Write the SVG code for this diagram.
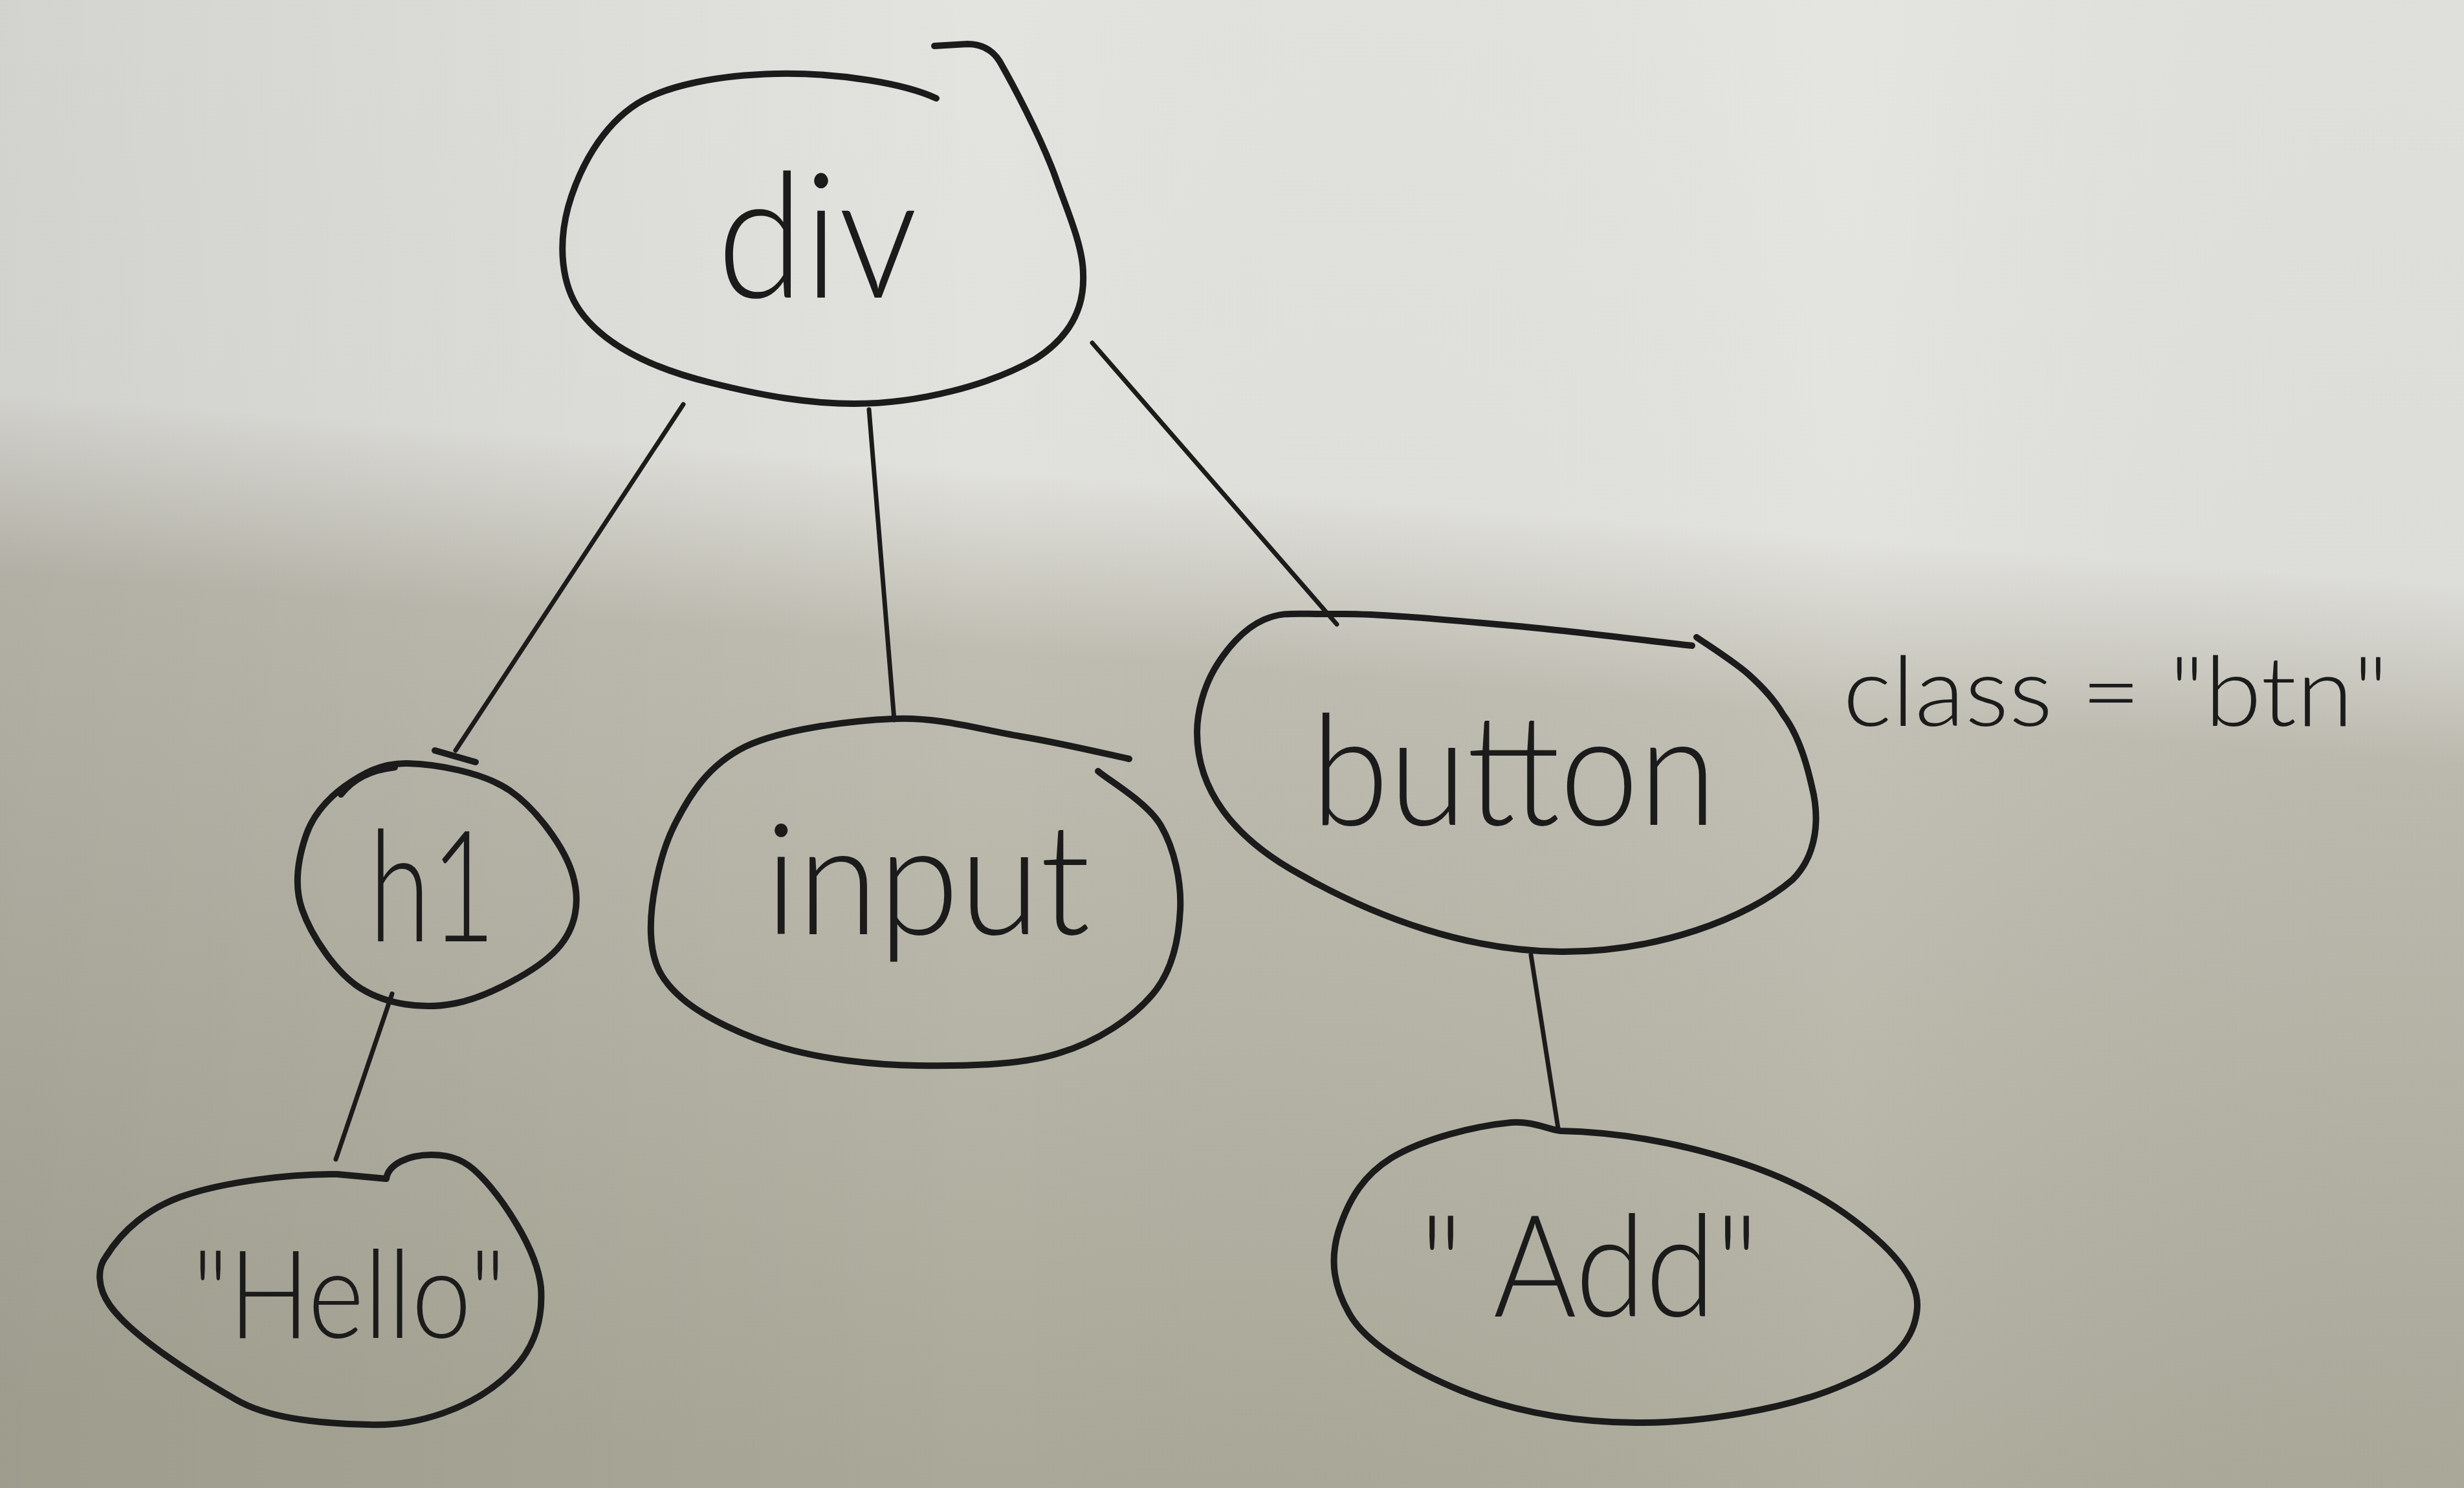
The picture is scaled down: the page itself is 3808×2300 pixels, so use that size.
<svg xmlns="http://www.w3.org/2000/svg" width="3808" height="2300" viewBox="0 0 3808 2300">
<defs>
<linearGradient id="bg" gradientUnits="userSpaceOnUse" x1="1990" y1="0" x2="1810" y2="2300">
<stop offset="0" stop-color="#e3e3df"/>
<stop offset="0.33" stop-color="#e1e1dd"/>
<stop offset="0.38" stop-color="#d3d2ca"/>
<stop offset="0.45" stop-color="#bfbdb1"/>
<stop offset="0.7" stop-color="#b6b4a6"/>
<stop offset="1" stop-color="#aaa898"/>
</linearGradient>
<linearGradient id="side" x1="0" y1="0" x2="1" y2="0">
<stop offset="0" stop-color="#000" stop-opacity="0.07"/>
<stop offset="0.4" stop-color="#000" stop-opacity="0"/>
<stop offset="0.75" stop-color="#fff" stop-opacity="0.05"/>
<stop offset="1" stop-color="#000" stop-opacity="0.02"/>
</linearGradient>
<style>
.node{fill:none;stroke:#1b1b1b;stroke-width:10;stroke-linecap:round;stroke-linejoin:round}
.edge{fill:none;stroke:#1b1b1b;stroke-width:7;stroke-linecap:round}
.lbl{font-family:"Lato","Liberation Sans",sans-serif;font-weight:300;fill:#1b1b1b}
</style>
</defs>
<rect width="3808" height="2300" fill="url(#bg)"/>
<rect width="3808" height="2300" fill="url(#side)"/>

<g id="connectors">
<path class="edge" d="M1056,625 L704,1160"/>
<path class="edge" d="M1343,633 L1382,1113"/>
<path class="edge" d="M1688,530 L2066,965"/>
<path class="edge" d="M606,1536 L519,1792"/>
<path class="edge" d="M2366,1476 L2408,1744"/>
</g>

<g id="node-div">
<path class="node" d="M1447,152 C1400,130 1300,112 1200,114 C1110,116 1030,132 985,160 C930,195 895,260 878,320 C862,380 868,440 896,480 C935,535 1010,570 1100,592 C1180,612 1250,624 1320,624 C1420,624 1530,595 1600,555 C1655,520 1676,475 1674,424 C1674,379 1647,320 1629,268 C1605,205 1565,130 1545,95 Q1528,68 1495,68 L1444,71"/>
<text class="lbl" x="1108" y="460" font-size="270" textLength="310" lengthAdjust="spacingAndGlyphs">div</text>
</g>

<g id="node-h1">
<path class="node" d="M630,1180 C672,1181 746,1193 788,1222 C830,1251 873,1311 885,1352 C897,1393 891,1434 861,1467 C831,1500 754,1541 703,1551 C652,1561 597,1552 558,1528 C519,1504 481,1446 467,1406 C453,1366 462,1323 473,1291 C484,1259 507,1234 533,1215 C559,1197 588,1179 630,1180"/>
<path class="node" d="M527,1228 Q555,1192 610,1186"/>
<path class="node" d="M672,1160 L735,1178"/>
<text class="lbl" x="570" y="1455" font-size="240" textLength="196" lengthAdjust="spacingAndGlyphs">h1</text>
</g>

<g id="node-input">
<path class="node" d="M1745,1173 C1717,1167 1637,1148 1576,1138 C1516,1128 1452,1108 1382,1111 C1312,1114 1209,1127 1152,1154 C1095,1182 1066,1228 1042,1276 C1018,1324 1004,1399 1006,1444 C1008,1489 1021,1515 1055,1544 C1089,1573 1152,1603 1212,1620 C1272,1637 1347,1646 1418,1647 C1489,1648 1575,1647 1636,1628 C1697,1610 1751,1573 1782,1536 C1813,1499 1822,1449 1824,1406 C1826,1363 1815,1312 1794,1276 C1773,1240 1713,1206 1697,1192"/>
<text class="lbl" x="1182" y="1444" font-size="240" textLength="503" lengthAdjust="spacingAndGlyphs">input</text>
</g>

<g id="node-button">
<path class="node" d="M2615,998 C2568,993 2427,975 2336,967 C2245,959 2132,948 2068,949 C2004,950 1985,944 1953,958 C1921,972 1894,1005 1877,1034 C1860,1063 1850,1101 1850,1132 C1850,1220 1905,1295 2010,1352 C2130,1420 2270,1470 2412,1471 C2560,1472 2700,1420 2770,1360 C2810,1320 2812,1262 2800,1215 C2790,1170 2775,1130 2756,1105 C2742,1081 2725,1063 2703,1043 C2681,1023 2636,995 2622,985"/>
<text class="lbl" x="2026" y="1275" font-size="240" textLength="627" lengthAdjust="spacingAndGlyphs">button</text>
</g>

<g id="node-hello">
<path class="node" d="M521,1815 L597,1822 C600,1800 630,1785 667,1785 C700,1785 720,1795 740,1815 C775,1850 830,1930 836,1990 C840,2050 820,2090 790,2120 C730,2180 640,2205 570,2202 C480,2200 410,2190 364,2163 C280,2115 200,2060 170,2018 C150,1990 150,1960 164,1942 C190,1900 230,1868 279,1850 C350,1825 450,1815 521,1815 Z"/>
<text class="lbl" x="297" y="2068" font-size="190" textLength="485" lengthAdjust="spacingAndGlyphs">"Hello"</text>
</g>

<g id="node-add">
<path class="node" d="M2412,1748 C2500,1750 2580,1765 2650,1785 C2740,1810 2800,1840 2850,1875 C2920,1925 2965,1975 2963,2020 C2960,2080 2910,2115 2850,2140 C2760,2180 2620,2200 2527,2199 C2420,2198 2330,2178 2259,2150 C2180,2118 2110,2075 2085,2030 C2062,1990 2055,1950 2068,1905 C2085,1850 2110,1815 2150,1790 C2200,1760 2280,1740 2336,1735 C2370,1733 2390,1745 2412,1748 Z"/>
<text class="lbl" x="2194" y="2035" font-size="220" textLength="524" lengthAdjust="spacingAndGlyphs">" Add"</text>
</g>

<g id="attr-class">
<text class="lbl" x="2848" y="1122" font-size="150" textLength="843" lengthAdjust="spacingAndGlyphs">class = "btn"</text>
</g>
</svg>
